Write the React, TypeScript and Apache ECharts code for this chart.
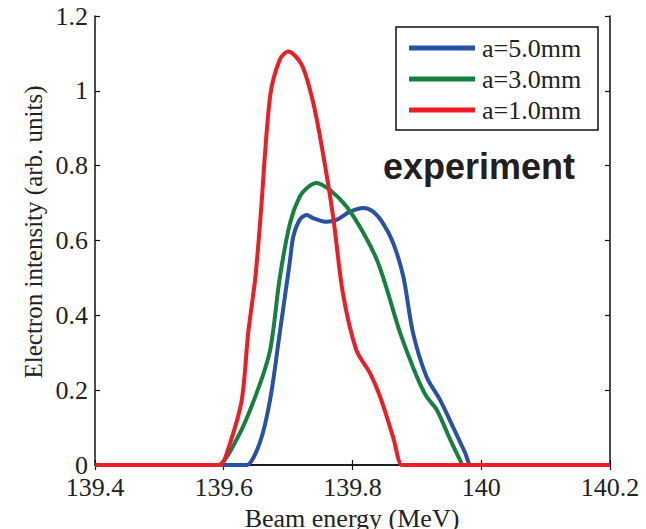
import React, { useEffect, useRef } from "react";
import * as echarts from "echarts";

const blueEnergy = [139.4, 139.634, 139.636, 139.656, 139.672, 139.687, 139.703, 139.708, 139.718, 139.729, 139.739, 139.76, 139.775, 139.796, 139.817, 139.832, 139.847, 139.863, 139.879, 139.894, 139.915, 139.936, 139.956, 139.975, 139.983, 139.985, 140.2];
const blueIntensity = [0, 0, 0, 0.059, 0.174, 0.353, 0.548, 0.61, 0.655, 0.668, 0.66, 0.65, 0.655, 0.677, 0.687, 0.677, 0.647, 0.594, 0.503, 0.353, 0.236, 0.174, 0.102, 0.032, 0, 0, 0];

const greenEnergy = [139.4, 139.589, 139.591, 139.622, 139.651, 139.672, 139.687, 139.703, 139.718, 139.731, 139.744, 139.765, 139.791, 139.817, 139.838, 139.853, 139.874, 139.9, 139.915, 139.931, 139.952, 139.967, 139.971, 139.973, 140.2];
const greenIntensity = [0, 0, 0, 0.075, 0.192, 0.307, 0.5, 0.647, 0.717, 0.743, 0.754, 0.735, 0.69, 0.62, 0.548, 0.472, 0.353, 0.236, 0.183, 0.147, 0.067, 0.013, 0, 0, 0];

const redEnergy = [139.4, 139.593, 139.595, 139.61, 139.628, 139.638, 139.649, 139.657, 139.672, 139.687, 139.7, 139.721, 139.739, 139.754, 139.77, 139.785, 139.806, 139.827, 139.843, 139.863, 139.876, 139.878, 140.2];
const redIntensity = [0, 0, 0, 0.059, 0.174, 0.353, 0.5, 0.66, 0.985, 1.083, 1.105, 1.07, 0.968, 0.834, 0.663, 0.46, 0.307, 0.246, 0.182, 0.075, 0, 0, 0];

const seriesNames = ["a=5.0mm", "a=3.0mm", "a=1.0mm"];
const seriesColors = ["#2a52a4", "#15803f", "#ee1d25"];

const xTicks = { min: 139.4, max: 140.2, interval: 0.2 };
const yTicks = { min: 0, max: 1.2, interval: 0.2 };

const xTitle = "Beam energy (MeV)";
const yTitle = "Electron intensity (arb. units)";
const annotation = "experiment";

const pair = (xs: number[], ys: number[]) => xs.map((x, i) => [x, ys[i]]);

const serif = "'Liberation Serif', 'Times New Roman', serif";

export default function App() {
  const ref = useRef<HTMLDivElement>(null);
  useEffect(() => {
    document.body.style.margin = "0";
    const chart = echarts.init(ref.current!, null, { renderer: "svg" });
    const axisLine = { show: true, lineStyle: { color: "#111", width: 1.5 } };
    const tick = { show: true, inside: true, length: 5, lineStyle: { color: "#111", width: 1.2 } };
    const fmt = (v: number) => String(Number(v.toFixed(1)));
    const datasets = [
      pair(blueEnergy, blueIntensity),
      pair(greenEnergy, greenIntensity),
      pair(redEnergy, redIntensity),
    ];
    const legendBox = { x: 396, y: 27, w: 202, h: 103, lineX0: 409, lineX1: 475, textX: 482, rowY0: 48, rowGap: 31 };
    const legendGraphics: any[] = [
      {
        type: "rect",
        shape: { x: legendBox.x, y: legendBox.y, width: legendBox.w, height: legendBox.h },
        style: { fill: "#fff", stroke: "#111", lineWidth: 1.5 },
        z: 10,
      },
    ];
    seriesNames.forEach((name, i) => {
      const yy = legendBox.rowY0 + i * legendBox.rowGap;
      legendGraphics.push({
        type: "line",
        shape: { x1: legendBox.lineX0, y1: yy, x2: legendBox.lineX1, y2: yy },
        style: { stroke: seriesColors[i], lineWidth: 5 },
        z: 11,
      });
      legendGraphics.push({
        type: "text",
        x: legendBox.textX,
        y: yy,
        style: { text: name, fontFamily: serif, fontSize: 26, fill: "#222", textAlign: "left", textVerticalAlign: "middle" },
        z: 11,
      });
    });
    chart.setOption({
      animation: false,
      grid: { left: 95, right: 36, top: 16, bottom: 64, containLabel: false },
      xAxis: [
        {
          type: "value", ...xTicks, position: "bottom",
          axisLine, axisTick: tick, splitLine: { show: false },
          axisLabel: { fontFamily: serif, fontSize: 26, lineHeight: 20, color: "#222", margin: 12, formatter: fmt },
        },
        {
          type: "value", ...xTicks, position: "top",
          axisLine, axisTick: tick, splitLine: { show: false }, axisLabel: { show: false },
        },
      ],
      yAxis: [
        {
          type: "value", ...yTicks, position: "left",
          axisLine, axisTick: tick, splitLine: { show: false },
          axisLabel: { fontFamily: serif, fontSize: 26, lineHeight: 20, color: "#222", margin: 7, formatter: fmt },
        },
        {
          type: "value", ...yTicks, position: "right",
          axisLine, axisTick: tick, splitLine: { show: false }, axisLabel: { show: false },
        },
      ],
      series: datasets.map((d, i) => ({
        name: seriesNames[i],
        type: "line",
        data: d,
        smooth: 0.3,
        showSymbol: false,
        symbol: "none",
        clip: false,
        color: seriesColors[i],
        lineStyle: { color: seriesColors[i], width: 4 },
        xAxisIndex: 0,
        yAxisIndex: 0,
      })),
      graphic: [
        ...legendGraphics,
        {
          type: "text", x: 383, y: 166,
          style: { text: annotation, font: "bold 36px 'Liberation Sans', Arial, sans-serif", fill: "#231f20", textAlign: "left", textVerticalAlign: "middle" },
          z: 11,
        },
        {
          type: "text", x: 352, y: 505,
          style: { text: xTitle, fontFamily: serif, fontSize: 26, fill: "#222", textAlign: "center", textVerticalAlign: "top" },
        },
        {
          type: "text", x: 33, y: 232, rotation: Math.PI / 2,
          style: { text: yTitle, fontFamily: serif, fontSize: 25, fill: "#222", textAlign: "center", textVerticalAlign: "middle" },
        },
      ],
    });
    return () => chart.dispose();
  }, []);
  return <div ref={ref} style={{ width: 646, height: 529 }} />;
}
